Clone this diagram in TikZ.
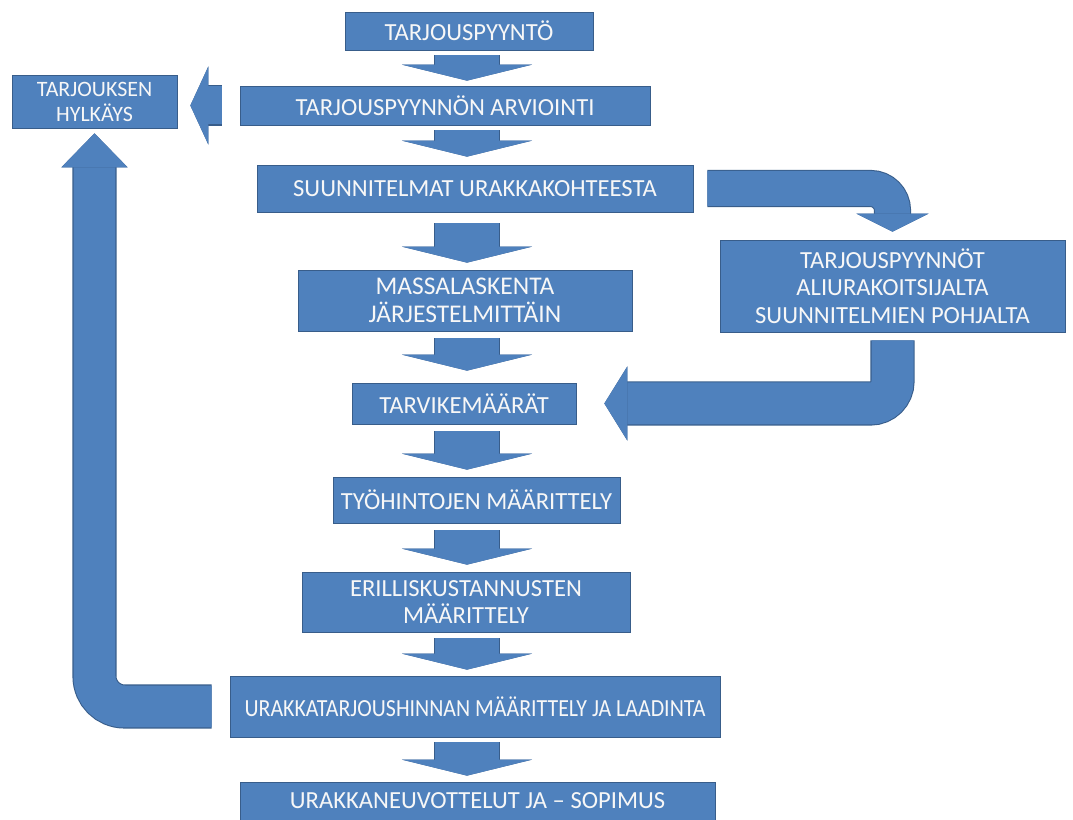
\documentclass[tikz,border=0pt]{standalone}
\usepackage{fontspec}
\setmainfont{Carlito}
\usetikzlibrary{arrows.meta,calc}
\definecolor{boxblue}{HTML}{4F81BD}
\definecolor{edgeblue}{HTML}{385D8A}

\begin{document}
\begin{tikzpicture}[x=0.02cm,y=-0.02cm,
  box/.style={draw=edgeblue,fill=boxblue,text=white!94!gray,align=center,inner sep=0pt,
    font=\fontsize{14}{15.8}\selectfont},
  flow/.style n args={3}{preaction={draw=edgeblue,line width=#1+1.2pt,
      -{Triangle[width=#2,length=#3,line width=1.2pt]}},
    draw=boxblue,line width=#1,-{Triangle[width=#2,length=#3,line width=0pt]}},
  down/.style={flow={1.28cm}{2.6cm}{0.32cm}}]
  \useasboundingbox (0,0) rectangle (1073,820);
  \coordinate (axis) at (467,0);
  % main column
  \node[box,minimum width=4.96cm,minimum height=0.76cm] (req) at (469,31) {TARJOUSPYYNTÖ};
  \node[box,minimum width=8.2cm,minimum height=0.78cm] (eval) at (445,105.5) {TARJOUSPYYNNÖN ARVIOINTI};
  \node[box,minimum width=8.72cm,minimum height=0.94cm] (plans) at (475,188.5) {SUUNNITELMAT URAKKAKOHTEESTA};
  \node[box,minimum width=6.68cm,minimum height=1.22cm,font=\fontsize{14.5}{16.2}\selectfont] (mass) at (465,300.5) {MASSALASKENTA\\JÄRJESTELMITTÄIN};
  \node[box,minimum width=4.48cm,minimum height=0.82cm] (mat) at (464,403.5) {TARVIKEMÄÄRÄT};
  \node[box,minimum width=5.74cm,minimum height=0.92cm] (work) at (476.5,500) {TYÖHINTOJEN MÄÄRITTELY};
  \node[box,minimum width=6.56cm,minimum height=1.2cm] (extra) at (466,602) {ERILLISKUSTANNUSTEN\\MÄÄRITTELY};
  \node[box,minimum width=9.8cm,minimum height=1.22cm] (price) at (475,706.5) {\scalebox{0.89}[1]{URAKKATARJOUSHINNAN MÄÄRITTELY JA LAADINTA}};
  \node[box,minimum width=9.5cm,minimum height=0.76cm] (neg) at (477.5,801) {URAKKANEUVOTTELUT JA -- SOPIMUS};
  % side boxes
  \node[box,minimum width=3.3cm,minimum height=1.06cm,font=\fontsize{12.5}{14.2}\selectfont] (rej) at (94.5,101.5) {TARJOUKSEN\\HYLKÄYS};
  \node[box,minimum width=6.9cm,minimum height=1.84cm] (sub) at (892.5,286) {TARJOUSPYYNNÖT\\ALIURAKOITSIJALTA\\SUUNNITELMIEN POHJALTA};
  % arrows down the column
  \draw[down] ($(req.south -| axis)+(0,5)$) -- ($(eval.north -| axis)+(0,-5)$);
  \draw[down] ($(eval.south -| axis)+(0,5)$) -- ($(plans.north -| axis)+(0,-8)$);
  \draw[down] ($(plans.south -| axis)+(0,11)$) -- ($(mass.north -| axis)+(0,-7)$);
  \draw[down] ($(mass.south -| axis)+(0,7)$) -- ($(mat.north -| axis)+(0,-12)$);
  \draw[down] ($(mat.south -| axis)+(0,7)$) -- ($(work.north -| axis)+(0,-7)$);
  \draw[down] ($(work.south -| axis)+(0,7)$) -- ($(extra.north -| axis)+(0,-7)$);
  \draw[down] ($(extra.south -| axis)+(0,6)$) -- ($(price.north -| axis)+(0,-6)$);
  \draw[down] ($(price.south -| axis)+(0,5)$) -- ($(neg.north -| axis)+(0,-6)$);
  % side arrows
  \draw[flow={0.76cm}{1.56cm}{0.36cm}] ($(eval.west)+(-18,0)$) -- ($(eval.west -| rej.east)+(13,0)$);
  \draw[flow={0.7cm}{1.44cm}{0.36cm},rounded corners=0.44cm] ($(plans.east)+(14,0)$) -| ($(sub.north)+(0,-8)$);
  \draw[flow={0.84cm}{1.48cm}{0.46cm},rounded corners=0.44cm] ($(sub.south)+(0,8)$) |- ($(mat.east)+(28,0)$);
  \draw[flow={0.84cm}{1.32cm}{0.68cm},rounded corners=0.6cm] ($(price.west)+(-18,0)$) -| ($(rej.south)+(0,5)$);
\end{tikzpicture}
\end{document}
